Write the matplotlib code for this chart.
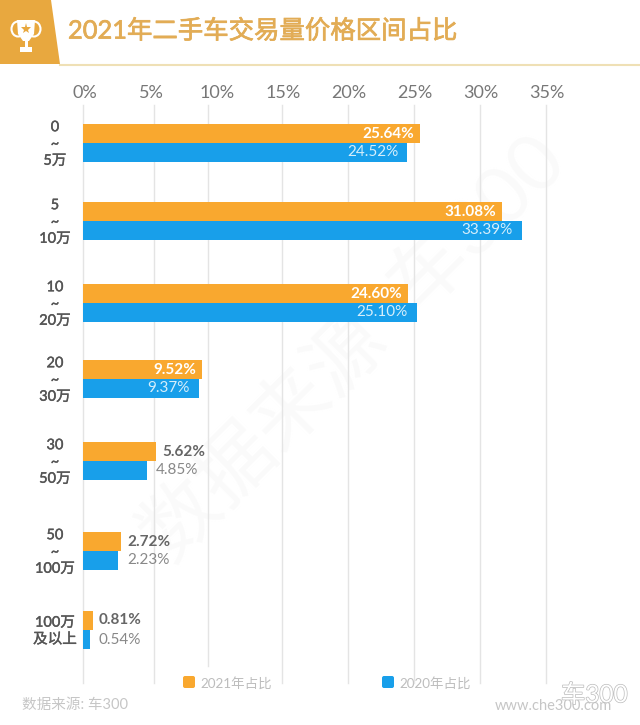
import matplotlib
matplotlib.use('Agg')
import matplotlib.pyplot as plt
import matplotlib.patheffects as pe
from matplotlib.patches import Polygon, Rectangle, FancyBboxPatch, Ellipse

plt.rcParams['font.family'] = ['Lato', 'Noto Sans CJK SC', 'DejaVu Sans']

categories = ['0\n~\n5万', '5\n~\n10万', '10\n~\n20万', '20\n~\n30万',
              '30\n~\n50万', '50\n~\n100万', '100万\n及以上']
# bar lengths as read against the axis, the printed labels do not always agree with them
bars_2021 = [25.53, 31.74, 24.62, 9.02, 5.53, 2.88, 0.76]
bars_2020 = [24.55, 33.26, 25.30, 8.79, 4.85, 2.65, 0.53]
labels_2021 = ['25.64%', '31.08%', '24.60%', '9.52%', '5.62%', '2.72%', '0.81%']
labels_2020 = ['24.52%', '33.39%', '25.10%', '9.37%', '4.85%', '2.23%', '0.54%']
tick_values = [0, 5, 10, 15, 20, 25, 30, 35]
tick_labels = ['0%', '5%', '10%', '15%', '20%', '25%', '30%', '35%']

# layout, in pixels of the picture
W, H = 640, 725
row_y = [143, 221, 303, 379, 461, 551, 630]
grid_x = [0, 5.38, 9.47, 15.08, 20.08, 25.08, 30.08, 35.08]
orange = '#F9A82F'
blue = '#189FEA'
thicker = [pe.withStroke(linewidth=0.3, foreground='#555555')]

fig = plt.figure(figsize=(6.4, 7.25), dpi=100, facecolor='white')

# full page layer for header, legend and footer
bg = fig.add_axes([0, 0, 1, 1])
bg.set_xlim(0, W)
bg.set_ylim(H, 0)
bg.axis('off')

bg.add_patch(Polygon([(0, 0), (51, 0), (60, 64), (0, 64)], color='#E8A83F', lw=0))
bg.plot([60, 640], [65, 65], color='#EFE0B5', lw=1.5)
bg.text(68, 30.5, '2021年二手车交易量价格区间占比', fontsize=18.3, color='#E2AC55',
        va='center', ha='left',
        path_effects=[pe.withStroke(linewidth=0.5, foreground='#E2AC55')])

# trophy
bg.add_patch(Ellipse((18, 29), 13, 15, fill=False, ec='white', lw=1.5))
bg.add_patch(Ellipse((34, 29), 13, 15, fill=False, ec='white', lw=1.5))
bg.add_patch(Polygon([(17, 20), (35, 20), (34, 34), (29, 41), (23, 41), (18, 34)],
                     color='white', lw=0))
bg.add_patch(Rectangle((24.5, 41), 3, 7, color='white', lw=0))
bg.add_patch(Rectangle((20, 47), 12, 5, color='white', lw=0))
bg.plot([26], [29], marker='*', ms=8, color='#E8A83F', mew=0)

# watermark
bg.text(355, 350, '数据来源  车300', fontsize=56, color='#FAFAFA', rotation=45,
        ha='center', va='center', zorder=0)

# legend
bg.add_patch(FancyBboxPatch((183, 676), 12, 12, boxstyle='round,pad=0,rounding_size=2',
                            color=orange, lw=0))
bg.text(200, 683, '2021年占比', fontsize=9.7, color='#BDBDBD', va='center')
bg.add_patch(FancyBboxPatch((382, 676), 12, 12, boxstyle='round,pad=0,rounding_size=2',
                            color=blue, lw=0))
bg.text(399, 683, '2020年占比', fontsize=9.7, color='#BDBDBD', va='center')

# footer
bg.text(22, 705, '数据来源: 车300', fontsize=10.5, color='#C6C6C6', va='center')
bg.text(612, 706, 'www.che300.com', fontsize=10.5, color='#C6C6C6', va='center', ha='right')
bg.text(561, 695, '车300', fontsize=17.5, color='white', va='center',
        path_effects=[pe.withStroke(linewidth=1.0, foreground='#BBBBBB')])

# chart
top, bottom = 105, 683
ax = fig.add_axes([83 / W, 1 - bottom / H, 462 / W, (bottom - top) / H])
ax.patch.set_alpha(0)
ax.set_xlim(0, 35)
ax.set_ylim(bottom, top)
for s in ax.spines.values():
    s.set_visible(False)

for g in grid_x:
    y_end = 666 if g == grid_x[2] else bottom
    ax.plot([g, g], [top, y_end], color='#E4E4E4', lw=1, zorder=1, clip_on=False)

bar_h = 19
y21 = [y - bar_h / 2 for y in row_y]
y20 = [y + bar_h / 2 for y in row_y]
ax.barh(y21, bars_2021, height=bar_h, color=orange, zorder=2)
ax.barh(y20, bars_2020, height=bar_h, color=blue, zorder=2)

ax.xaxis.tick_top()
ax.set_xticks(tick_values, tick_labels)
ax.tick_params(axis='x', length=0, pad=3, labelsize=13, labelcolor='#777777')
for t in ax.get_xticklabels():
    t.set_transform(t.get_transform() + matplotlib.transforms.ScaledTranslation(2 / 100, 0, fig.dpi_scale_trans))
ax.set_yticks([])

for i in range(len(categories)):
    ax.annotate(categories[i], (0, row_y[i]), xytext=(-28, -1), textcoords='offset pixels',
                ha='center', va='center', fontsize=10.5, color='#555555',
                linespacing=1.25, clip_on=False, path_effects=thicker)

for i in range(len(categories)):
    if i < 4:
        ax.annotate(labels_2021[i], (bars_2021[i], y21[i]), xytext=(-6, 0),
                    textcoords='offset pixels', ha='right', va='center',
                    fontsize=11, color='white', fontweight='bold', zorder=3)
        ax.annotate(labels_2020[i], (bars_2020[i], y20[i]), xytext=(-9, 0),
                    textcoords='offset pixels', ha='right', va='center',
                    fontsize=11, color='#D5EEFB', zorder=3)
    else:
        ax.annotate(labels_2021[i], (bars_2021[i], y21[i]), xytext=(6, 0),
                    textcoords='offset pixels', ha='left', va='center',
                    fontsize=11, color='#666666', fontweight='bold', zorder=3)
        ax.annotate(labels_2020[i], (bars_2020[i], y20[i]), xytext=(9, 0),
                    textcoords='offset pixels', ha='left', va='center',
                    fontsize=11, color='#888888', zorder=3)

fig.savefig('out.png', dpi=100)
